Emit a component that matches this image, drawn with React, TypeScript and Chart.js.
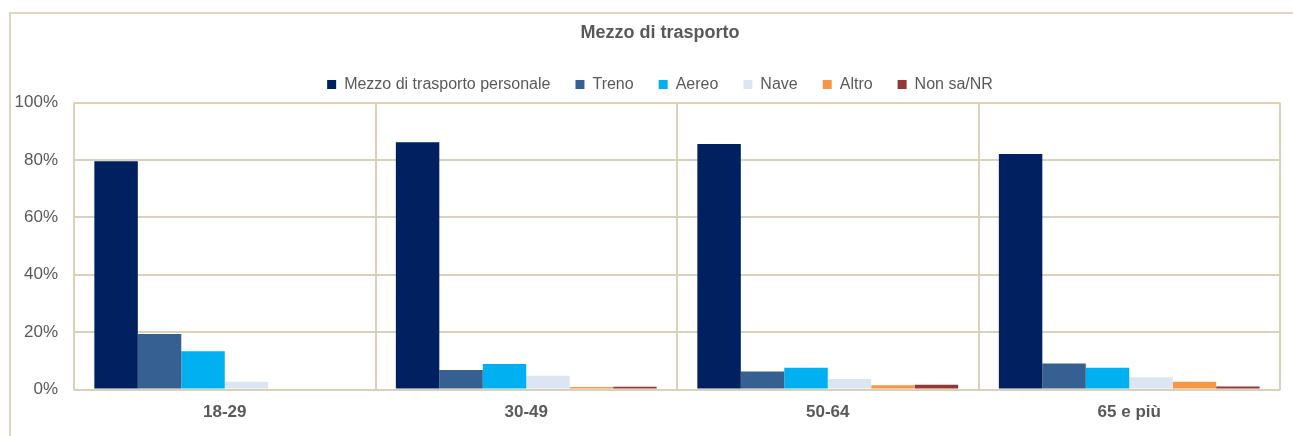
import React, { useEffect, useRef } from "react";
import { Chart, registerables } from "chart.js";

Chart.register(...registerables);

const categories = ["18-29", "30-49", "50-64", "65 e più"];
const seriesNames = ["Mezzo di trasporto personale", "Treno", "Aereo", "Nave", "Altro", "Non sa/NR"];
const mezzoPersonale = [79.6, 86.2, 85.6, 82.1];
const treno = [19.4, 6.8, 6.3, 9.1];
const aereo = [13.4, 8.9, 7.6, 7.6];
const nave = [2.7, 4.8, 3.7, 4.3];
const altro = [0, 0.9, 1.5, 2.7];
const nonSa = [0, 1.0, 1.7, 1.1];
const yTickStep = 20;
const yMax = 100;
const colors = ["#002060", "#376092", "#00b0f0", "#dce6f2", "#f79646", "#953735"];

const FONT = "'Liberation Sans', Arial, sans-serif";
const GRID = "#d8d3b8";
const TEXT = "#595959";

const framePlugin = {
  id: "frame",
  beforeDraw(chart: any) {
    const ctx = chart.ctx;
    ctx.save();
    ctx.strokeStyle = "#dbd6c0";
    ctx.lineWidth = 2;
    ctx.beginPath();
    ctx.moveTo(10, chart.height);
    ctx.lineTo(10, 13);
    ctx.lineTo(chart.width, 13);
    ctx.stroke();
    ctx.restore();
  },
};

export default function App() {
  const ref = useRef<HTMLCanvasElement>(null);
  useEffect(() => {
    document.body.style.margin = "0";
    const all = [mezzoPersonale, treno, aereo, nave, altro, nonSa];
    const chart = new Chart(ref.current!, {
      type: "bar",
      data: {
        labels: categories,
        datasets: all.map((d, i) => ({
          label: seriesNames[i],
          data: d,
          backgroundColor: colors[i],
          borderWidth: 0,
          categoryPercentage: 0.865,
          barPercentage: 1,
        })),
      },
      options: {
        animation: false,
        responsive: false,
        maintainAspectRatio: false,
        layout: { padding: { left: 40, right: 13, top: 0, bottom: 0 } },
        plugins: {
          title: {
            display: true,
            text: "Mezzo di trasporto",
            color: TEXT,
            font: { family: FONT, size: 18, weight: "bold" },
            padding: { top: 22, bottom: 8 },
          },
          legend: {
            position: "top",
            labels: {
              boxWidth: 9,
              boxHeight: 9,
              color: TEXT,
              padding: 25,
              font: { family: FONT, size: 16 },
            },
          },
          tooltip: { enabled: false },
        },
        scales: {
          x: {
            grid: { color: GRID, lineWidth: 2, drawTicks: false },
            border: { display: false },
            ticks: {
              color: TEXT,
              padding: 13,
              font: { family: FONT, size: 17, weight: "bold" },
            },
          },
          y: {
            min: 0,
            max: yMax,
            afterFit(scale: any) {
              scale.width = 34;
              scale._computeLabelArea = () => undefined;
            },
            grid: { color: GRID, lineWidth: 2, drawTicks: false },
            border: { display: false },
            ticks: {
              stepSize: yTickStep,
              color: TEXT,
              padding: 16,
              font: { family: FONT, size: 17 },
              callback: (v: any) => v + "%",
            },
          },
        },
      },
      plugins: [framePlugin],
    });
    return () => chart.destroy();
  }, []);
  return <canvas ref={ref} width={1293} height={436} style={{ display: "block" }} />;
}
